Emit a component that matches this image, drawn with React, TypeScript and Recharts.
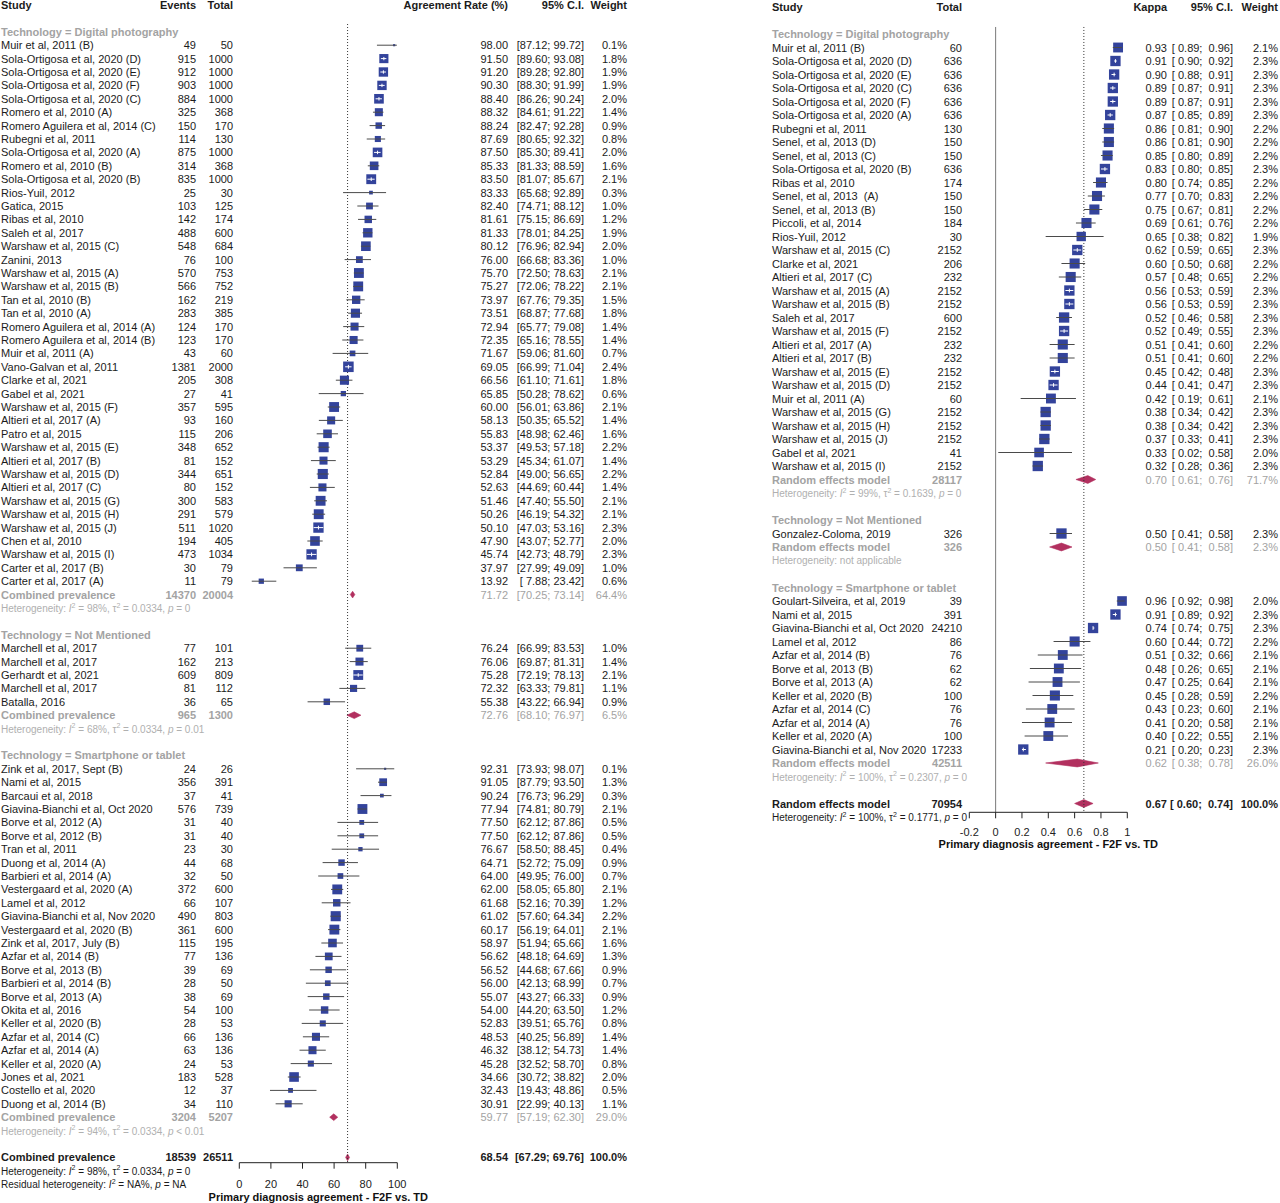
import React from "react";
import {
  ComposedChart,
  Scatter,
  XAxis,
  YAxis,
  ReferenceLine,
  ReferenceArea,
} from "recharts";

const FONT = "'Liberation Sans', Arial, Helvetica, sans-serif";
const INK = "#1b1b1b";
const GREY = "#a3a3a3";
const HET_GREY = "#b0b0b0";
const BOX = "#33439b";
const DIAMOND = "#b2305f";
const CI_LINE = "#4a4a4a";
const AXIS_TITLE = "Primary diagnosis agreement - F2F vs. TD";

const groups = ["Digital photography", "Not Mentioned", "Smartphone or tablet"];

// agreement rate: [study, events, total, rate, lower, upper, weight %]
const rateDigital: [string, number, number, number, number, number, number][] = [
  ["Muir et al, 2011 (B)", 49, 50, 98.0, 87.12, 99.72, 0.1],
  ["Sola-Ortigosa et al, 2020 (D)", 915, 1000, 91.5, 89.6, 93.08, 1.8],
  ["Sola-Ortigosa et al, 2020 (E)", 912, 1000, 91.2, 89.28, 92.8, 1.9],
  ["Sola-Ortigosa et al, 2020 (F)", 903, 1000, 90.3, 88.3, 91.99, 1.9],
  ["Sola-Ortigosa et al, 2020 (C)", 884, 1000, 88.4, 86.26, 90.24, 2.0],
  ["Romero et al, 2010 (A)", 325, 368, 88.32, 84.61, 91.22, 1.4],
  ["Romero Aguilera et al, 2014 (C)", 150, 170, 88.24, 82.47, 92.28, 0.9],
  ["Rubegni et al, 2011", 114, 130, 87.69, 80.65, 92.32, 0.8],
  ["Sola-Ortigosa et al, 2020 (A)", 875, 1000, 87.5, 85.3, 89.41, 2.0],
  ["Romero et al, 2010 (B)", 314, 368, 85.33, 81.33, 88.59, 1.6],
  ["Sola-Ortigosa et al, 2020 (B)", 835, 1000, 83.5, 81.07, 85.67, 2.1],
  ["Rios-Yuil, 2012", 25, 30, 83.33, 65.68, 92.89, 0.3],
  ["Gatica, 2015", 103, 125, 82.4, 74.71, 88.12, 1.0],
  ["Ribas et al, 2010", 142, 174, 81.61, 75.15, 86.69, 1.2],
  ["Saleh et al, 2017", 488, 600, 81.33, 78.01, 84.25, 1.9],
  ["Warshaw et al, 2015 (C)", 548, 684, 80.12, 76.96, 82.94, 2.0],
  ["Zanini, 2013", 76, 100, 76.0, 66.68, 83.36, 1.0],
  ["Warshaw et al, 2015 (A)", 570, 753, 75.7, 72.5, 78.63, 2.1],
  ["Warshaw et al, 2015 (B)", 566, 752, 75.27, 72.06, 78.22, 2.1],
  ["Tan et al, 2010 (B)", 162, 219, 73.97, 67.76, 79.35, 1.5],
  ["Tan et al, 2010 (A)", 283, 385, 73.51, 68.87, 77.68, 1.8],
  ["Romero Aguilera et al, 2014 (A)", 124, 170, 72.94, 65.77, 79.08, 1.4],
  ["Romero Aguilera et al, 2014 (B)", 123, 170, 72.35, 65.16, 78.55, 1.4],
  ["Muir et al, 2011 (A)", 43, 60, 71.67, 59.06, 81.6, 0.7],
  ["Vano-Galvan et al, 2011", 1381, 2000, 69.05, 66.99, 71.04, 2.4],
  ["Clarke et al, 2021", 205, 308, 66.56, 61.1, 71.61, 1.8],
  ["Gabel et al, 2021", 27, 41, 65.85, 50.28, 78.62, 0.6],
  ["Warshaw et al, 2015 (F)", 357, 595, 60.0, 56.01, 63.86, 2.1],
  ["Altieri et al, 2017 (A)", 93, 160, 58.13, 50.35, 65.52, 1.4],
  ["Patro et al, 2015", 115, 206, 55.83, 48.98, 62.46, 1.6],
  ["Warshaw et al, 2015 (E)", 348, 652, 53.37, 49.53, 57.18, 2.2],
  ["Altieri et al, 2017 (B)", 81, 152, 53.29, 45.34, 61.07, 1.4],
  ["Warshaw et al, 2015 (D)", 344, 651, 52.84, 49.0, 56.65, 2.2],
  ["Altieri et al, 2017 (C)", 80, 152, 52.63, 44.69, 60.44, 1.4],
  ["Warshaw et al, 2015 (G)", 300, 583, 51.46, 47.4, 55.5, 2.1],
  ["Warshaw et al, 2015 (H)", 291, 579, 50.26, 46.19, 54.32, 2.1],
  ["Warshaw et al, 2015 (J)", 511, 1020, 50.1, 47.03, 53.16, 2.3],
  ["Chen et al, 2010", 194, 405, 47.9, 43.07, 52.77, 2.0],
  ["Warshaw et al, 2015 (I)", 473, 1034, 45.74, 42.73, 48.79, 2.3],
  ["Carter et al, 2017 (B)", 30, 79, 37.97, 27.99, 49.09, 1.0],
  ["Carter et al, 2017 (A)", 11, 79, 13.92, 7.88, 23.42, 0.6],
];

const rateNotMentioned: [string, number, number, number, number, number, number][] = [
  ["Marchell et al, 2017", 77, 101, 76.24, 66.99, 83.53, 1.0],
  ["Marchell et al, 2017", 162, 213, 76.06, 69.87, 81.31, 1.4],
  ["Gerhardt et al, 2021", 609, 809, 75.28, 72.19, 78.13, 2.1],
  ["Marchell et al, 2017", 81, 112, 72.32, 63.33, 79.81, 1.1],
  ["Batalla, 2016", 36, 65, 55.38, 43.22, 66.94, 0.9],
];

const rateSmartphone: [string, number, number, number, number, number, number][] = [
  ["Zink et al, 2017, Sept (B)", 24, 26, 92.31, 73.93, 98.07, 0.1],
  ["Nami et al, 2015", 356, 391, 91.05, 87.79, 93.5, 1.3],
  ["Barcaui et al, 2018", 37, 41, 90.24, 76.73, 96.29, 0.3],
  ["Giavina-Bianchi et al, Oct 2020", 576, 739, 77.94, 74.81, 80.79, 2.1],
  ["Borve et al, 2012 (A)", 31, 40, 77.5, 62.12, 87.86, 0.5],
  ["Borve et al, 2012 (B)", 31, 40, 77.5, 62.12, 87.86, 0.5],
  ["Tran et al, 2011", 23, 30, 76.67, 58.5, 88.45, 0.4],
  ["Duong et al, 2014 (A)", 44, 68, 64.71, 52.72, 75.09, 0.9],
  ["Barbieri et al, 2014 (A)", 32, 50, 64.0, 49.95, 76.0, 0.7],
  ["Vestergaard et al, 2020 (A)", 372, 600, 62.0, 58.05, 65.8, 2.1],
  ["Lamel et al, 2012", 66, 107, 61.68, 52.16, 70.39, 1.2],
  ["Giavina-Bianchi et al, Nov 2020", 490, 803, 61.02, 57.6, 64.34, 2.2],
  ["Vestergaard et al, 2020 (B)", 361, 600, 60.17, 56.19, 64.01, 2.1],
  ["Zink et al, 2017, July (B)", 115, 195, 58.97, 51.94, 65.66, 1.6],
  ["Azfar et al, 2014 (B)", 77, 136, 56.62, 48.18, 64.69, 1.3],
  ["Borve et al, 2013 (B)", 39, 69, 56.52, 44.68, 67.66, 0.9],
  ["Barbieri et al, 2014 (B)", 28, 50, 56.0, 42.13, 68.99, 0.7],
  ["Borve et al, 2013 (A)", 38, 69, 55.07, 43.27, 66.33, 0.9],
  ["Okita et al, 2016", 54, 100, 54.0, 44.2, 63.5, 1.2],
  ["Keller et al, 2020 (B)", 28, 53, 52.83, 39.51, 65.76, 0.8],
  ["Azfar et al, 2014 (C)", 66, 136, 48.53, 40.25, 56.89, 1.4],
  ["Azfar et al, 2014 (A)", 63, 136, 46.32, 38.12, 54.73, 1.4],
  ["Keller et al, 2020 (A)", 24, 53, 45.28, 32.52, 58.7, 0.8],
  ["Jones et al, 2021", 183, 528, 34.66, 30.72, 38.82, 2.0],
  ["Costello et al, 2020", 12, 37, 32.43, 19.43, 48.86, 0.5],
  ["Duong et al, 2014 (B)", 34, 110, 30.91, 22.99, 40.13, 1.1],
];

// [events, total, rate, lower, upper, weight %]
const ratePooled = [
  [14370, 20004, 71.72, 70.25, 73.14, 64.4],
  [965, 1300, 72.76, 68.1, 76.97, 6.5],
  [3204, 5207, 59.77, 57.19, 62.3, 29.0],
];
const rateOverall = [18539, 26511, 68.54, 67.29, 69.76, 100.0];
// [I2, tau2, p]
const rateHet = [
  ["98%", "0.0334", "= 0"],
  ["68%", "0.0334", "= 0.01"],
  ["94%", "0.0334", "< 0.01"],
];
const rateOverallHet = ["98%", "0.0334", "= 0"];
const rateResidualHet = ["NA%", "= NA"];
const rateTicks = [0, 20, 40, 60, 80, 100];

// kappa: [study, total, kappa, lower, upper, weight %]
const kappaDigital: [string, number, number, number, number, number][] = [
  ["Muir et al, 2011 (B)", 60, 0.93, 0.89, 0.96, 2.1],
  ["Sola-Ortigosa et al, 2020 (D)", 636, 0.91, 0.9, 0.92, 2.3],
  ["Sola-Ortigosa et al, 2020 (E)", 636, 0.9, 0.88, 0.91, 2.3],
  ["Sola-Ortigosa et al, 2020 (C)", 636, 0.89, 0.87, 0.91, 2.3],
  ["Sola-Ortigosa et al, 2020 (F)", 636, 0.89, 0.87, 0.91, 2.3],
  ["Sola-Ortigosa et al, 2020 (A)", 636, 0.87, 0.85, 0.89, 2.3],
  ["Rubegni et al, 2011", 130, 0.86, 0.81, 0.9, 2.2],
  ["Senel, et al, 2013 (D)", 150, 0.86, 0.81, 0.9, 2.2],
  ["Senel, et al, 2013 (C)", 150, 0.85, 0.8, 0.89, 2.2],
  ["Sola-Ortigosa et al, 2020 (B)", 636, 0.83, 0.8, 0.85, 2.3],
  ["Ribas et al, 2010", 174, 0.8, 0.74, 0.85, 2.2],
  ["Senel, et al, 2013  (A)", 150, 0.77, 0.7, 0.83, 2.2],
  ["Senel, et al, 2013 (B)", 150, 0.75, 0.67, 0.81, 2.2],
  ["Piccoli, et al, 2014", 184, 0.69, 0.61, 0.76, 2.2],
  ["Rios-Yuil, 2012", 30, 0.65, 0.38, 0.82, 1.9],
  ["Warshaw et al, 2015 (C)", 2152, 0.62, 0.59, 0.65, 2.3],
  ["Clarke et al, 2021", 206, 0.6, 0.5, 0.68, 2.2],
  ["Altieri et al, 2017 (C)", 232, 0.57, 0.48, 0.65, 2.2],
  ["Warshaw et al, 2015 (A)", 2152, 0.56, 0.53, 0.59, 2.3],
  ["Warshaw et al, 2015 (B)", 2152, 0.56, 0.53, 0.59, 2.3],
  ["Saleh et al, 2017", 600, 0.52, 0.46, 0.58, 2.3],
  ["Warshaw et al, 2015 (F)", 2152, 0.52, 0.49, 0.55, 2.3],
  ["Altieri et al, 2017 (A)", 232, 0.51, 0.41, 0.6, 2.2],
  ["Altieri et al, 2017 (B)", 232, 0.51, 0.41, 0.6, 2.2],
  ["Warshaw et al, 2015 (E)", 2152, 0.45, 0.42, 0.48, 2.3],
  ["Warshaw et al, 2015 (D)", 2152, 0.44, 0.41, 0.47, 2.3],
  ["Muir et al, 2011 (A)", 60, 0.42, 0.19, 0.61, 2.1],
  ["Warshaw et al, 2015 (G)", 2152, 0.38, 0.34, 0.42, 2.3],
  ["Warshaw et al, 2015 (H)", 2152, 0.38, 0.34, 0.42, 2.3],
  ["Warshaw et al, 2015 (J)", 2152, 0.37, 0.33, 0.41, 2.3],
  ["Gabel et al, 2021", 41, 0.33, 0.02, 0.58, 2.0],
  ["Warshaw et al, 2015 (I)", 2152, 0.32, 0.28, 0.36, 2.3],
];

const kappaNotMentioned: [string, number, number, number, number, number][] = [
  ["Gonzalez-Coloma, 2019", 326, 0.5, 0.41, 0.58, 2.3],
];

const kappaSmartphone: [string, number, number, number, number, number][] = [
  ["Goulart-Silveira, et al, 2019", 39, 0.96, 0.92, 0.98, 2.0],
  ["Nami et al, 2015", 391, 0.91, 0.89, 0.92, 2.3],
  ["Giavina-Bianchi et al, Oct 2020", 24210, 0.74, 0.74, 0.75, 2.3],
  ["Lamel et al, 2012", 86, 0.6, 0.44, 0.72, 2.2],
  ["Azfar et al, 2014 (B)", 76, 0.51, 0.32, 0.66, 2.1],
  ["Borve et al, 2013 (B)", 62, 0.48, 0.26, 0.65, 2.1],
  ["Borve et al, 2013 (A)", 62, 0.47, 0.25, 0.64, 2.1],
  ["Keller et al, 2020 (B)", 100, 0.45, 0.28, 0.59, 2.2],
  ["Azfar et al, 2014 (C)", 76, 0.43, 0.23, 0.6, 2.1],
  ["Azfar et al, 2014 (A)", 76, 0.41, 0.2, 0.58, 2.1],
  ["Keller et al, 2020 (A)", 100, 0.4, 0.22, 0.55, 2.1],
  ["Giavina-Bianchi et al, Nov 2020", 17233, 0.21, 0.2, 0.23, 2.3],
];

// [total, kappa, lower, upper, weight %]
const kappaPooled = [
  [28117, 0.7, 0.61, 0.76, 71.7],
  [326, 0.5, 0.41, 0.58, 2.3],
  [42511, 0.62, 0.38, 0.78, 26.0],
];
const kappaOverall = [70954, 0.67, 0.6, 0.74, 100.0];
const kappaHet = [
  ["99%", "0.1639", "= 0"],
  null,
  ["100%", "0.2307", "= 0"],
];
const kappaOverallHet = ["100%", "0.1771", "= 0"];
const kappaTicks = [-0.2, 0, 0.2, 0.4, 0.6, 0.8, 1];

type Entry = {
  name: string;
  events?: number;
  total: number;
  est: number;
  lo: number;
  hi: number;
  w: number;
};

type Het =
  | { kind: "full"; prefix: string; i2: string; tau2?: string; p: string }
  | { kind: "plain"; text: string };

type Row = {
  i: number;
  kind: "header" | "group" | "study" | "pooled" | "het" | "overall";
  label?: string;
  e?: Entry;
  het?: Het;
  below?: Het[];
};

type Col = { key: string; x: number; anchor: "start" | "end"; head: string };

const BOX_K = 6.8;
const boxSide = (w: number) => BOX_K * Math.sqrt(w);

function fullHet(h: string[] | null, prefix = "Heterogeneity: "): Het {
  if (!h) return { kind: "plain", text: "Heterogeneity: not applicable" };
  return { kind: "full", prefix, i2: h[0], tau2: h[1], p: h[2] };
}

function buildPanel(opts: {
  studies: Entry[][];
  pooled: Entry[];
  overall: Entry;
  hets: Het[];
  below: Het[];
  ppu: number;
}) {
  const rows: Row[] = [{ i: 0, kind: "header" }];
  const points: any[] = [];
  const diamonds: any[] = [];
  let i = 2;
  groups.forEach((g, gi) => {
    rows.push({ i, kind: "group", label: `Technology = ${g}` });
    i++;
    opts.studies[gi].forEach((s) => {
      rows.push({ i, kind: "study", e: s });
      const half = boxSide(s.w) / 2;
      const inside = (s.est - s.lo) * opts.ppu < half && (s.hi - s.est) * opts.ppu < half;
      points.push({ row: i, est: s.est, lo: s.lo, hi: s.hi, w: s.w, inside });
      i++;
    });
    rows.push({ i, kind: "pooled", e: opts.pooled[gi] });
    diamonds.push({ row: i, ...opts.pooled[gi] });
    i++;
    rows.push({ i, kind: "het", het: opts.hets[gi] });
    i += 2;
  });
  rows.push({ i, kind: "overall", e: opts.overall, below: opts.below });
  diamonds.push({ row: i, ...opts.overall });
  return { rows, points, diamonds };
}

const rateEntry = (s: any[]): Entry => ({
  name: s[0], events: s[1], total: s[2], est: s[3], lo: s[4], hi: s[5], w: s[6],
});
const kappaEntry = (s: any[]): Entry => ({
  name: s[0], total: s[1], est: s[2], lo: s[3], hi: s[4], w: s[5],
});

const LEFT = {
  offsetX: 0,
  width: 640,
  height: 1203,
  top: 5,
  pitch: 13.4,
  axisY: 1162.7,
  plotL: 239.3,
  plotR: 397.3,
  domain: [0, 100] as [number, number],
  ticks: rateTicks,
  fmt: (v: number) => String(v),
  decimals: 2,
  refX: rateOverall[2],
  refFrom: 1.42,
  zeroLine: false,
  tickMargin: 11.4,
  labelOffset: 2,
  diamondH: 0.25,
  cols: [
    { key: "name", x: 1, anchor: "start", head: "Study" },
    { key: "events", x: 196, anchor: "end", head: "Events" },
    { key: "total", x: 233, anchor: "end", head: "Total" },
    { key: "est", x: 508, anchor: "end", head: "Agreement Rate (%)" },
    { key: "ci", x: 584, anchor: "end", head: "95% C.I." },
    { key: "w", x: 627, anchor: "end", head: "Weight" },
  ] as Col[],
};

const RIGHT = {
  offsetX: 640,
  width: 640,
  height: 852,
  top: 7,
  pitch: 13.5,
  axisY: 812.3,
  plotL: 969.3,
  plotR: 1127.3,
  domain: [-0.2, 1] as [number, number],
  ticks: kappaTicks,
  fmt: (v: number) => (v === 0 ? "0" : v === 1 ? "1" : v.toFixed(1)),
  decimals: 2,
  refX: kappaOverall[1],
  refFrom: 1.48,
  zeroLine: true,
  tickMargin: 9.8,
  labelOffset: 4,
  diamondH: 0.29,
  cols: [
    { key: "name", x: 132, anchor: "start", head: "Study" },
    { key: "total", x: 322, anchor: "end", head: "Total" },
    { key: "est", x: 527, anchor: "end", head: "Kappa" },
    { key: "ci", x: 593, anchor: "end", head: "95% C.I." },
    { key: "w", x: 638, anchor: "end", head: "Weight" },
  ] as Col[],
};

type Layout = typeof LEFT;
const ppuOf = (L: Layout) => (L.plotR - L.plotL) / (L.domain[1] - L.domain[0]);

const leftPanel = buildPanel({
  studies: [rateDigital, rateNotMentioned, rateSmartphone].map((g) => g.map(rateEntry)),
  pooled: ratePooled.map((p) => rateEntry(["Combined prevalence", ...p])),
  overall: rateEntry(["Combined prevalence", ...rateOverall]),
  hets: rateHet.map((h) => fullHet(h)),
  below: [
    fullHet(rateOverallHet),
    { kind: "full", prefix: "Residual heterogeneity: ", i2: rateResidualHet[0], p: rateResidualHet[1] },
  ],
  ppu: ppuOf(LEFT),
});

const rightPanel = buildPanel({
  studies: [kappaDigital, kappaNotMentioned, kappaSmartphone].map((g) => g.map(kappaEntry)),
  pooled: kappaPooled.map((p) => kappaEntry(["Random effects model", ...p])),
  overall: kappaEntry(["Random effects model", ...kappaOverall]),
  hets: kappaHet.map((h) => fullHet(h)),
  below: [fullHet(kappaOverallHet)],
  ppu: ppuOf(RIGHT),
});

function cellText(e: Entry, key: string, d: number) {
  switch (key) {
    case "name":
      return e.name;
    case "events":
      return e.events === undefined ? "" : String(e.events);
    case "total":
      return String(e.total);
    case "est":
      return e.est.toFixed(d);
    case "ci":
      return `[${e.lo.toFixed(d).padStart(5)}; ${e.hi.toFixed(d).padStart(5)}]`;
    case "w":
      return `${e.w.toFixed(1)}%`;
  }
  return "";
}

function HetText({ x, y, het, color }: { x: number; y: number; het: Het; color: string }) {
  const common = {
    x,
    y,
    fill: color,
    fontSize: 10,
    fontFamily: FONT,
    dominantBaseline: "central" as const,
  };
  if (het.kind === "plain") return <text {...common}>{het.text}</text>;
  return (
    <text {...common}>
      <tspan>{het.prefix}</tspan>
      <tspan fontStyle="italic">I</tspan>
      <tspan dy={-3.5} fontSize={7}>2</tspan>
      <tspan dy={3.5}>{` = ${het.i2}, `}</tspan>
      {het.tau2 !== undefined && (
        <>
          <tspan>τ</tspan>
          <tspan dy={-3.5} fontSize={7}>2</tspan>
          <tspan dy={3.5}>{` = ${het.tau2}, `}</tspan>
        </>
      )}
      <tspan fontStyle="italic">p</tspan>
      <tspan>{` ${het.p}`}</tspan>
    </text>
  );
}

function makeRowTick(L: Layout, rows: Row[]) {
  const byIndex = new Map(rows.map((r) => [r.i, r]));
  return (props: any) => {
    const row = byIndex.get(props.payload.value);
    if (!row) return <g />;
    const y = props.y;
    const base = {
      fontSize: 11,
      fontFamily: FONT,
      dominantBaseline: "central" as const,
      style: { whiteSpace: "pre" as const },
    };
    const nameX = L.cols[0].x;
    if (row.kind === "header") {
      return (
        <g>
          {L.cols.map((c) => (
            <text key={c.key} {...base} x={c.x} y={y} textAnchor={c.anchor} fontWeight="bold" fill={INK}>
              {c.head}
            </text>
          ))}
        </g>
      );
    }
    if (row.kind === "group") {
      return (
        <text {...base} x={nameX} y={y} fontWeight="bold" fill={GREY}>
          {row.label}
        </text>
      );
    }
    if (row.kind === "het") {
      return <HetText x={nameX} y={y} het={row.het!} color={HET_GREY} />;
    }
    const e = row.e!;
    const leftKeys = ["name", "events", "total"];
    return (
      <g>
        {L.cols.map((c) => {
          let fill = INK;
          let weight = "normal";
          if (row.kind === "pooled") {
            fill = GREY;
            weight = leftKeys.includes(c.key) ? "bold" : "normal";
          } else if (row.kind === "overall") {
            weight = "bold";
          }
          return (
            <text key={c.key} {...base} x={c.x} y={y} textAnchor={c.anchor} fontWeight={weight} fill={fill}>
              {cellText(e, c.key, L.decimals)}
            </text>
          );
        })}
        {(row.below || []).map((h, k) => (
          <HetText key={k} x={nameX} y={y + L.pitch * (k + 1)} het={h} color={INK} />
        ))}
      </g>
    );
  };
}

const BoxShape = (props: any) => {
  const { cx, cy, payload } = props;
  const s = boxSide(payload.w);
  return (
    <g>
      <rect x={cx - s / 2} y={cy - s / 2} width={s} height={s} fill={BOX} />
      {payload.inside && (
        <line x1={cx} x2={cx} y1={cy - s * 0.18} y2={cy + s * 0.18} stroke="#ffffff" strokeWidth={1} />
      )}
    </g>
  );
};

const NoShape = () => <g />;

function DiamondShape(props: any) {
  const { x, y, width, height, frac } = props;
  const mx = x + width * frac;
  const pts = `${x},${y + height / 2} ${mx},${y} ${x + width},${y + height / 2} ${mx},${y + height}`;
  return <polygon points={pts} fill={DIAMOND} stroke={DIAMOND} strokeWidth={0.6} />;
}

function Forest({ L, panel }: { L: Layout; panel: ReturnType<typeof buildPanel> }) {
  const yMax = (L.axisY - L.top) / L.pitch;
  const rowTicks = panel.rows.map((r) => r.i);
  const yWidth = L.plotL - L.offsetX;
  const marginRight = L.offsetX + L.width - L.plotR;
  return (
    <div style={{ position: "absolute", left: L.offsetX, top: 0 }}>
      <ComposedChart
        width={L.width}
        height={L.height}
        margin={{ top: L.top, right: marginRight, bottom: 0, left: 0 }}
      >
        <XAxis
          type="number"
          dataKey="est"
          domain={L.domain}
          allowDataOverflow
          ticks={L.ticks}
          interval={0}
          tickFormatter={L.fmt}
          height={L.height - L.axisY}
          stroke="#222"
          tickSize={6}
          tickMargin={L.tickMargin}
          tick={{ fontSize: 11, fill: "#222", fontFamily: FONT }}
          label={{
            value: AXIS_TITLE,
            position: "insideBottom",
            offset: L.labelOffset,
            fontSize: 11,
            fontWeight: "bold",
            fill: "#111",
            fontFamily: FONT,
          }}
        />
        <YAxis
          type="number"
          dataKey="row"
          domain={[0, yMax]}
          allowDataOverflow
          reversed
          ticks={rowTicks}
          interval={0}
          width={yWidth}
          axisLine={false}
          tickLine={false}
          tick={makeRowTick(L, panel.rows)}
        />
        {L.zeroLine && (
          <ReferenceLine
            segment={[
              { x: 0, y: L.refFrom },
              { x: 0, y: yMax },
            ]}
            stroke="#7a7a7a"
            strokeWidth={1}
          />
        )}
        <ReferenceLine
          segment={[
            { x: L.refX, y: L.refFrom },
            { x: L.refX, y: yMax },
          ]}
          stroke="#333"
          strokeDasharray="1 2"
          strokeWidth={1}
        />
        <Scatter data={panel.points} shape={BoxShape} isAnimationActive={false} />
        {panel.points.map((p) => (
          <Scatter
            key={`ci-${p.row}`}
            data={[
              { est: p.lo, row: p.row },
              { est: p.hi, row: p.row },
            ]}
            shape={NoShape}
            line={{ stroke: p.inside ? "#ffffff" : CI_LINE, strokeWidth: 1 }}
            isAnimationActive={false}
          />
        ))}
        {panel.diamonds.map((d) => (
          <ReferenceArea
            key={d.row}
            x1={d.lo}
            x2={d.hi}
            y1={d.row - L.diamondH}
            y2={d.row + L.diamondH}
            ifOverflow="visible"
            shape={(p: any) => <DiamondShape {...p} frac={(d.est - d.lo) / (d.hi - d.lo)} />}
          />
        ))}
      </ComposedChart>
    </div>
  );
}

export default function App() {
  return (
    <div
      style={{
        position: "absolute",
        left: 0,
        top: 0,
        width: 1280,
        height: 1203,
        background: "#ffffff",
        fontFamily: FONT,
      }}
    >
      <Forest L={LEFT} panel={leftPanel} />
      <Forest L={RIGHT} panel={rightPanel} />
    </div>
  );
}
